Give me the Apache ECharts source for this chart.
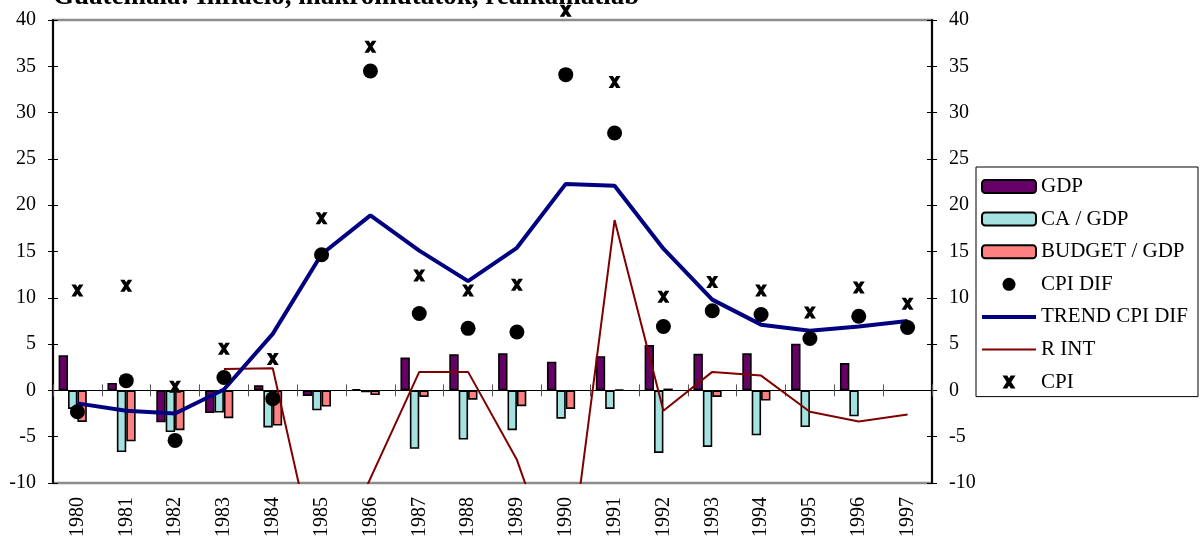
<!DOCTYPE html>
<html>
<head>
<meta charset="utf-8">
<script src="https://cdn.jsdelivr.net/npm/echarts@6/dist/echarts.min.js"></script>
<style>
  html, body { margin: 0; padding: 0; background: #fff; }
  #chart { width: 1201px; height: 543px; }
</style>
</head>
<body>
<div id="chart"></div>
<script>
// Years on the category axis
const years = ['1980','1981','1982','1983','1984','1985','1986','1987','1988',
               '1989','1990','1991','1992','1993','1994','1995','1996','1997'];

// Bar series (percent)
const gdp       = [3.8, 0.8, -3.45, -2.45, 0.55, -0.6, 0.15, 3.55, 3.9, 4.0, 3.1, 3.7, 4.9, 3.95, 4.0, 5.05, 2.95, null];
const caGdp     = [-2.0, -6.65, -4.5, -2.4, -4.0, -2.15, -0.2, -6.3, -5.3, -4.3, -3.05, -2.0, -6.75, -6.1, -4.85, -3.95, -2.8, null];
const budgetGdp = [-3.4, -5.5, -4.3, -3.0, -3.8, -1.75, -0.5, -0.7, -1.0, -1.7, -2.0, 0.1, 0.2, -0.7, -1.1, null, null, null];

// Inflation and real interest rate
const cpiDif      = [-2.3, 1.05, -5.4, 1.4, -0.9, 14.65, 34.5, 8.3, 6.7, 6.3, 34.1, 27.8, 6.9, 8.6, 8.2, 5.6, 8.0, 6.8];
const trendCpiDif = [-1.4, -2.2, -2.5, 0.1, 6.1, 14.7, 18.9, 15.1, 11.8, 15.4, 22.3, 22.1, 15.3, 9.8, 7.1, 6.45, 6.9, 7.5];
const rInt        = [null, null, null, 2.3, 2.4, -21, null, 2.0, 2.0, -7.5, -22.5, 18.4, -2.2, 2.0, 1.6, -2.3, -3.35, -2.6];
const cpi         = [10.8, 11.3, 0.4, 4.5, 3.4, 18.6, 37.1, 12.4, 10.8, 11.4, 41, 33.3, 10.1, 11.7, 10.8, 8.4, 11.1, 9.35];

// Value axis ticks
const yMin = -10, yMax = 40, yStep = 5;

const serif = '"Liberation Serif", "Times New Roman", serif';
// bold X marker with flat ends
const crossMark = 'path://M0,0 L3.6,0 L10,10 L6.4,10 Z M6.4,0 L10,0 L3.6,10 L0,10 Z';

const chart = echarts.init(document.getElementById('chart'), null, { renderer: 'canvas' });

function valueAxis(position, inside, labels) {
  return {
    type: 'value', position: position,
    min: yMin, max: yMax, interval: yStep,
    splitLine: { show: false },
    axisLine: { show: true, lineStyle: { color: '#000', width: 1.5 } },
    axisTick: { show: true, inside: inside, length: 5, lineStyle: { color: '#000', width: 1 } },
    axisLabel: labels ? { show: true, margin: 17, color: '#000', fontFamily: serif, fontSize: 20 } : { show: false }
  };
}

function zeroAxis(inside) {
  return {
    type: 'category', data: years, position: 'bottom',
    axisLine: { show: true, onZero: true, lineStyle: { color: '#000', width: 1 } },
    axisTick: { show: true, inside: inside, length: 6, lineStyle: { color: '#555', width: 1 } },
    axisLabel: { show: false },
    splitLine: { show: false }
  };
}

const barStyle = (c) => ({ color: c, borderColor: '#000', borderWidth: 1.6 });

chart.setOption({
  backgroundColor: '#fff',
  animation: false,
  title: {
    text: 'Guatemala: Inflació, makromutatók, reálkamatláb',
    left: 48, top: -21,
    textStyle: { fontFamily: serif, fontSize: 27, fontWeight: 'bold', color: '#000' }
  },
  grid: {
    left: 53, right: 269, top: 20, bottom: 60,
    show: true, borderColor: '#8c8c8c', borderWidth: 2.5, backgroundColor: 'transparent'
  },
  legend: {
    orient: 'vertical',
    left: 976, top: 167,
    padding: [9, 10, 4, 5],
    itemWidth: 54, itemHeight: 13, itemGap: 11.6,
    borderColor: '#000', borderWidth: 1,
    selectedMode: false,
    textStyle: { fontFamily: serif, fontSize: 21, color: '#000', lineHeight: 20 },
    data: [
      'GDP', 'CA / GDP', 'BUDGET / GDP',
      { name: 'CPI DIF', icon: 'circle' },
      { name: 'TREND CPI DIF', icon: 'path://M0,0 L54,0 L54,4 L0,4 Z' },
      { name: 'R INT', icon: 'path://M0,0 L54,0 L54,2 L0,2 Z' },
      { name: 'CPI', icon: crossMark }
    ]
  },
  xAxis: [
    zeroAxis(true),
    zeroAxis(false),
    {
      type: 'category', data: years, position: 'bottom',
      axisLine: { show: false, onZero: false },
      axisTick: { show: false },
      axisLabel: { show: true, rotate: 90, margin: 14, interval: 0, color: '#000', fontFamily: serif, fontSize: 20 }
    }
  ],
  yAxis: [
    valueAxis('left', false, true),
    valueAxis('left', true, false),
    valueAxis('right', false, true),
    valueAxis('right', true, false)
  ],
  series: [
    { name: 'GDP', type: 'bar', data: gdp, barGap: '0%', barCategoryGap: '23%', itemStyle: barStyle('#660066'), z: 2 },
    { name: 'CA / GDP', type: 'bar', data: caGdp, itemStyle: barStyle('#a3e2e0'), z: 2 },
    { name: 'BUDGET / GDP', type: 'bar', data: budgetGdp, itemStyle: barStyle('#ff8080'), z: 2 },
    // empty fourth slot keeps the bar group spacing
    { name: 'spacer', type: 'bar', data: years.map(() => null), itemStyle: { color: 'transparent' }, z: 1 },
    {
      name: 'TREND CPI DIF', type: 'line', data: trendCpiDif,
      symbol: 'none', lineStyle: { color: '#000080', width: 4 }, itemStyle: { color: '#000080' }, z: 4
    },
    {
      name: 'R INT', type: 'line', data: rInt, connectNulls: true,
      symbol: 'none', lineStyle: { color: '#800000', width: 2 }, itemStyle: { color: '#800000' }, z: 3
    },
    {
      name: 'CPI DIF', type: 'scatter', data: cpiDif,
      symbol: 'circle', symbolSize: 15, itemStyle: { color: '#000', opacity: 1 }, z: 5
    },
    {
      name: 'CPI', type: 'scatter', data: cpi, clip: false,
      symbol: crossMark, symbolSize: [12, 12], itemStyle: { color: '#000', opacity: 1 }, z: 5
    }
  ]
});
</script>
</body>
</html>
